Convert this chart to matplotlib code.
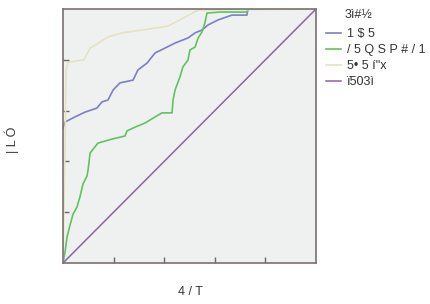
import matplotlib
matplotlib.use("Agg")
import matplotlib.pyplot as plt

plt.rcParams['font.family'] = ['Liberation Sans', 'DejaVu Sans']

# ROC-style curves (false positive rate, true positive rate)
blue_fpr = [0, .008, .047, .087, .134, .154, .178, .198, .225, .277, .296, .332, .364, .403,
            .443, .494, .522, .549, .573, .613, .668, .727, .731, 1.0]
blue_tpr = [.531, .555, .575, .594, .610, .634, .642, .681, .709, .720, .760, .787, .827, .846,
            .866, .886, .906, .917, .937, .957, .976, .976, 1.0, 1.0]

green_fpr = [0, .008, .016, .028, .040, .055, .067, .079, .095, .099, .107, .138, .194, .245,
             .253, .285, .324, .364, .391, .431, .435, .443, .462, .474, .494, .502, .522, .534,
             .549, .561, .569, .621, .727, .731, 1.0]
green_tpr = [0, .043, .102, .150, .193, .220, .260, .311, .343, .366, .433, .472, .488, .500,
             .520, .535, .551, .575, .591, .591, .642, .681, .732, .772, .799, .839, .850, .886,
             .909, .945, .984, .988, .988, 1.0, 1.0]

beige_fpr = [0, .008, .012, .02, .083, .107, .178, .233, .312, .364, .415, .462, .534, 1.0]
beige_tpr = [0, .445, .76, .79, .80, .846, .89, .906, .917, .925, .933, .957, .996, 1.0]

diag_fpr = [0, 1]
diag_tpr = [0, 1]

legend_title = "3ì#½"
labels = ["1 $ 5", "/ 5 Q S P # / 1", "5• 5 í\"x", "ï503ì"]
colors = ["#7b7fc6", "#62c163", "#e6e2c0", "#8e62a8"]
xlabel = "4 / T"
ylabel = "| L Ó"
ticks = [0.2, 0.4, 0.6, 0.8]

fig = plt.figure(figsize=(4.3, 3.04), dpi=100)
ax = fig.add_axes([63/430, 41/304, 253/430, 254/304])
ax.set_facecolor("#eff1f1")

h1, = ax.plot(blue_fpr, blue_tpr, color=colors[0], lw=1.2)
h2, = ax.plot(green_fpr, green_tpr, color=colors[1], lw=1.2)
h3, = ax.plot(beige_fpr, beige_tpr, color=colors[2], lw=1.2)
h4, = ax.plot(diag_fpr, diag_tpr, color=colors[3], lw=1.1)

ax.set_xlim(0, 1)
ax.set_ylim(0, 1)
ax.set_xticks(ticks)
ax.set_yticks(ticks)
ax.set_xticklabels([])
ax.set_yticklabels([])
ax.tick_params(direction="in", length=4, color="#6e6464", width=1)
for s in ax.spines.values():
    s.set_color("#7a7070")
    s.set_linewidth(1.2)

fig.text(190/430, 1 - 292/304, xlabel, fontsize=9, color="#333333",
         ha="center", va="center")
fig.text(12/430, 1 - 140/304, ylabel, fontsize=9, color="#333333",
         ha="center", va="center", rotation=90)

leg = fig.legend([h1, h2, h3, h4], labels, loc="upper left",
                 bbox_to_anchor=(321/430, 1 - 23/304), frameon=False,
                 fontsize=9, handlelength=1.2, handletextpad=0.5,
                 labelspacing=0.33, borderaxespad=0)
for t in leg.get_texts():
    t.set_color("#333333")
fig.text(345/430, 1 - 15/304, legend_title, fontsize=9, color="#333333",
         ha="left", va="center")

fig.savefig("out.png", dpi=100)
